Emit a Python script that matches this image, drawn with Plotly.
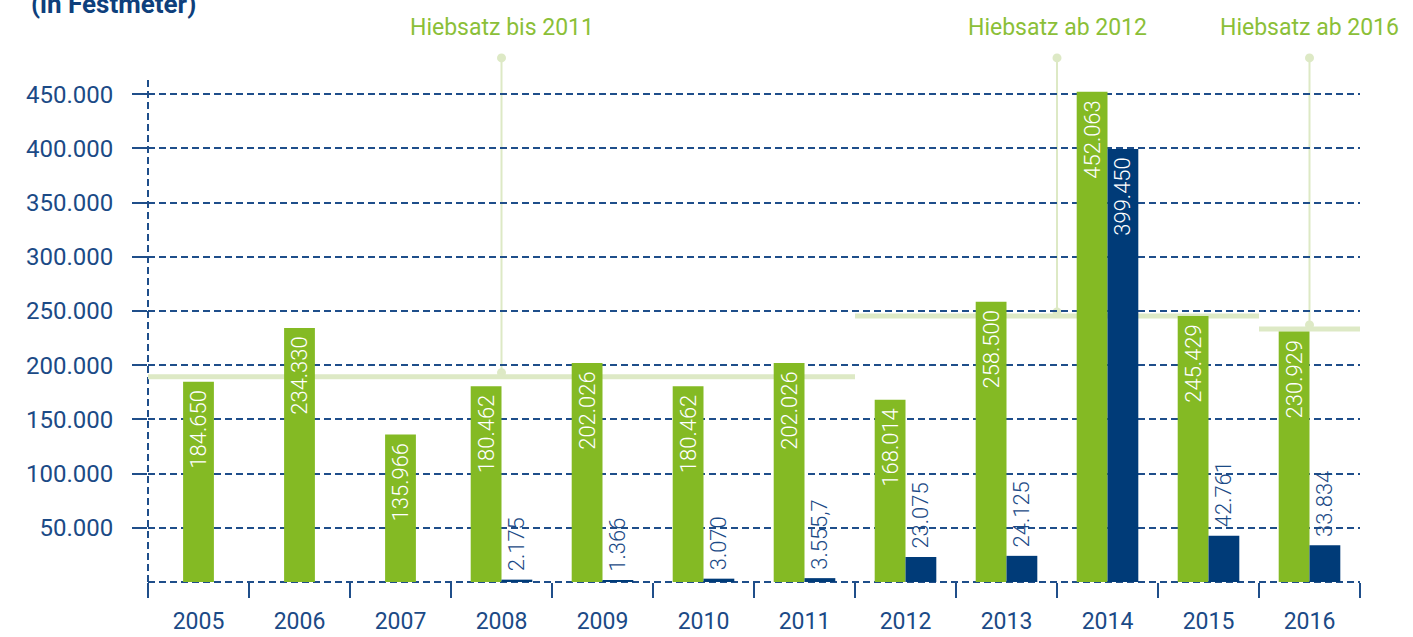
import plotly.graph_objects as go

# ---------------- data ----------------
years = ["2005", "2006", "2007", "2008", "2009", "2010", "2011",
         "2012", "2013", "2014", "2015", "2016"]
green_values = [184650, 234330, 135966, 180462, 202026, 180462, 202026,
                168014, 258500, 452063, 245429, 230929]
blue_values = [None, None, None, 2175, 1366, 3070, 3555.7,
               23075, 24125, 399450, 42761, 33834]

y_ticks = [50000, 100000, 150000, 200000, 250000, 300000, 350000, 400000, 450000]

hiebsatz_labels = ["Hiebsatz bis 2011", "Hiebsatz ab 2012", "Hiebsatz ab 2016"]
hiebsatz_start = ["2005", "2012", "2016"]
hiebsatz_end = ["2011", "2015", "2016"]
hiebsatz_values = [189400, 245400, 233400]

title_text = "(in Festmeter)"

# ---------------- style ----------------
GREEN = "#84ba24"
BLUE = "#003b78"
TEXT_BLUE = "#1b4a86"
GRID_BLUE = "#1f4e8a"
LIGHT_GREEN = "#dde9c5"
LABEL_GREEN = "#8bbf38"
FONT = "Roboto"
YMAX = 463000
BAR_W = 0.305
INSIDE_MIN = 60000
NBSP = "\u00a0"
N = len(years)


def de_fmt(v):
    if float(v).is_integer():
        return f"{int(v):,}".replace(",", ".")
    s = f"{v:,.1f}"
    return s.replace(",", "#").replace(".", ",").replace("#", ".")


def pos_for(v):
    return "inside" if v >= INSIDE_MIN else "outside"


def label_for(v):
    return de_fmt(v) + NBSP if pos_for(v) == "inside" else NBSP + de_fmt(v)


has_blue = [b is not None for b in blue_values]
green_offsets = [-BAR_W if hb else -BAR_W / 2 for hb in has_blue]

bx = [y for y, b in zip(years, blue_values) if b is not None]
by = [b for b in blue_values if b is not None]

fig = go.Figure()

bar_text_kw = dict(
    textangle=-90, insidetextanchor="end", constraintext="none",
    insidetextfont=dict(color="white", size=22, family=FONT, weight=300),
    outsidetextfont=dict(color=TEXT_BLUE, size=22, family=FONT, weight=300),
    cliponaxis=False, hoverinfo="skip", showlegend=False,
)

fig.add_trace(go.Bar(
    x=years, y=green_values, width=BAR_W, offset=green_offsets,
    marker=dict(color=GREEN, line=dict(width=0)),
    text=[label_for(v) for v in green_values],
    textposition=[pos_for(v) for v in green_values],
    **bar_text_kw,
))

fig.add_trace(go.Bar(
    x=bx, y=by, width=BAR_W, offset=0,
    marker=dict(color=BLUE, line=dict(width=0)),
    text=[label_for(v) for v in by],
    textposition=[pos_for(v) for v in by],
    **bar_text_kw,
))

shapes = []
annotations = []

# dashed axis lines (left and bottom)
shapes.append(dict(type="line", xref="paper", yref="paper", x0=0, x1=1, y0=0, y1=0,
                   line=dict(color=GRID_BLUE, width=2, dash="7px,4px"), layer="between"))
shapes.append(dict(type="line", xref="paper", yref="paper", x0=0, x1=0, y0=0, y1=1,
                   line=dict(color=GRID_BLUE, width=2, dash="7px,4px"), layer="between"))

TOP_PAPER = 1.044
LABEL_PAPER = 1.104
for lab, s, e, v in zip(hiebsatz_labels, hiebsatz_start, hiebsatz_end, hiebsatz_values):
    i0 = years.index(s)
    i1 = years.index(e)
    shapes.append(dict(type="line", xref="x", yref="y", x0=i0 - 0.5, x1=i1 + 0.5, y0=v, y1=v,
                       line=dict(color=LIGHT_GREEN, width=5), layer="between"))
    xm = ((i0 + i1) / 2 + 0.5) / N
    yv = v / YMAX
    shapes.append(dict(type="line", xref="paper", yref="paper", x0=xm, x1=xm, y0=yv, y1=TOP_PAPER,
                       line=dict(color=LIGHT_GREEN, width=2), layer="between"))
    for ya, dy in ((TOP_PAPER, 0), (yv, 4)):
        shapes.append(dict(type="circle", xref="paper", yref="paper",
                           xsizemode="pixel", ysizemode="pixel",
                           xanchor=xm, yanchor=ya, x0=-4.5, x1=4.5, y0=dy - 4.5, y1=dy + 4.5,
                           fillcolor=LIGHT_GREEN, line=dict(width=0), layer="between"))
    annotations.append(dict(text=lab, xref="paper", yref="paper", x=xm, y=LABEL_PAPER,
                            xanchor="center", yanchor="middle", showarrow=False,
                            font=dict(color=LABEL_GREEN, size=23, family=FONT)))

annotations.append(dict(text="<b>" + title_text + "</b>", xref="paper", yref="paper",
                        x=-0.0985, y=1.152, xanchor="left", yanchor="middle", showarrow=False,
                        font=dict(color="#0e3f7c", size=26, family=FONT)))

fig.update_layout(
    width=1413, height=637,
    margin=dict(l=148, r=53, t=80, b=55, autoexpand=False),
    paper_bgcolor="white", plot_bgcolor="white",
    separators=",.",
    barmode="overlay",
    shapes=shapes, annotations=annotations,
    showlegend=False,
    xaxis=dict(
        type="category", range=[-0.5, N - 0.5],
        tickson="boundaries", ticks="outside", ticklen=15, tickwidth=2, tickcolor=GRID_BLUE,
        showgrid=False, showline=False, zeroline=False,
        tickfont=dict(color=TEXT_BLUE, size=23, family=FONT),
        ticklabelstandoff=23,
    ),
    yaxis=dict(
        range=[0, YMAX], tickvals=y_ticks, tickformat=",",
        ticks="outside", ticklen=15, tickwidth=2, tickcolor=GRID_BLUE,
        showgrid=True, gridcolor=GRID_BLUE, gridwidth=2, griddash="7px,4px",
        showline=False, zeroline=False,
        tickfont=dict(color=TEXT_BLUE, size=24, family=FONT),
        ticklabelstandoff=14,
    ),
)

fig.write_html(
    "out.html",
    config={"displayModeBar": False},
    post_script="document.body.style.margin='0';document.body.style.overflow='hidden';",
)
